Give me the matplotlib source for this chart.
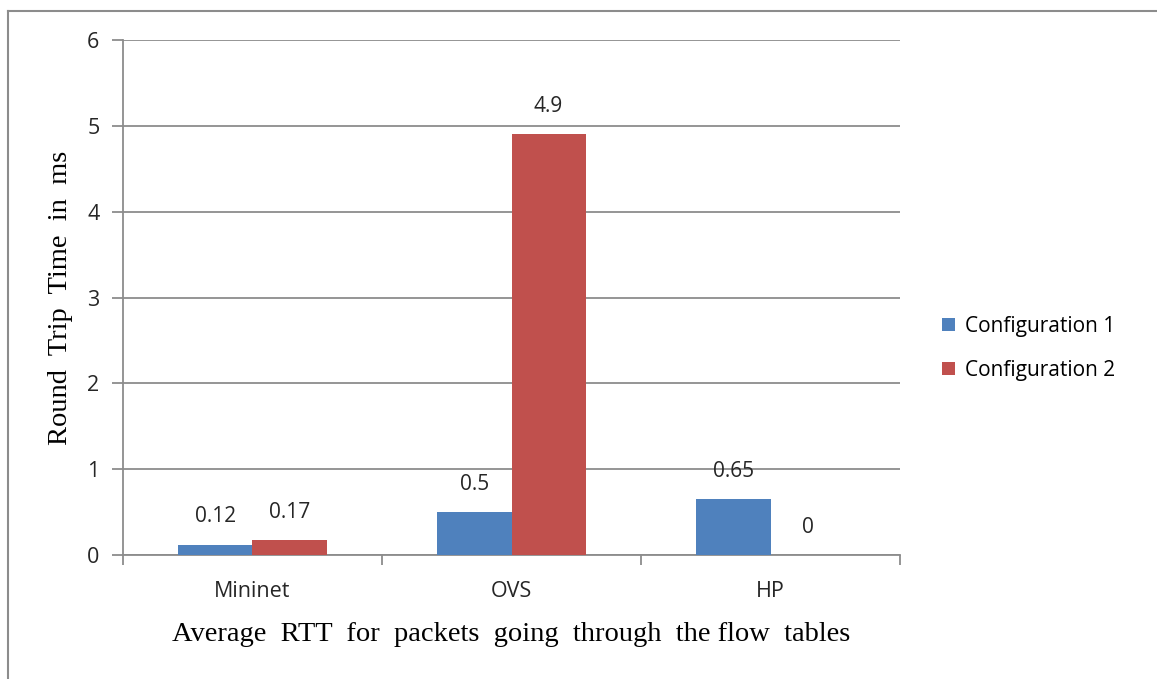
import matplotlib
matplotlib.use("Agg")
import matplotlib.pyplot as plt
import numpy as np
from matplotlib.lines import Line2D

# Average round trip time per switch platform
platforms = ["Mininet", "OVS", "HP"]
config1_rtt = [0.12, 0.5, 0.65]
config2_rtt = [0.17, 4.9, 0]
series_names = ["Configuration 1", "Configuration 2"]
y_ticks = [0, 1, 2, 3, 4, 5, 6]

BLUE = "#4F81BD"
RED = "#C0504D"
GRID = "#8C8C8C"
TEXT = "#262626"

plt.rcParams["font.family"] = ["Open Sans", "DejaVu Sans"]

fig = plt.figure(figsize=(11.57, 6.79), dpi=100)
ax = fig.add_axes([0.1063, 0.1826, 0.6716, 0.7585])

x = np.arange(len(platforms))
width = 0.286
bars1 = ax.bar(x - width / 2, config1_rtt, width, color=BLUE, label=series_names[0], zorder=3)
bars2 = ax.bar(x + width / 2, config2_rtt, width, color=RED, label=series_names[1], zorder=3)

for bars in (bars1, bars2):
    for b in bars:
        h = b.get_height()
        ax.annotate(f"{h:g}", (b.get_x() + b.get_width() / 2, h),
                    xytext=(0, 20), textcoords="offset points",
                    ha="center", va="center", fontsize=15, color=TEXT, zorder=4)

ax.set_xlim(-0.5, len(platforms) - 0.5)
ax.set_ylim(0, 6)
ax.set_yticks(y_ticks)
ax.yaxis.grid(True, color=GRID, linewidth=1.3, zorder=0)
ax.set_axisbelow(True)

# category labels sit between the boundary ticks
ax.set_xticks(np.arange(-0.5, len(platforms), 1.0))
ax.set_xticklabels([])
ax.set_xticks(x, minor=True)
ax.set_xticklabels(platforms, minor=True)
ax.tick_params(axis="x", which="minor", length=0, pad=19, labelsize=15.5, labelcolor=TEXT)
ax.tick_params(axis="x", which="major", length=7, width=1.3, color=GRID, direction="out")
ax.tick_params(axis="y", length=8, width=1.3, color=GRID, direction="out", pad=9,
               labelsize=15.5, labelcolor=TEXT)

for side in ("top", "right"):
    ax.spines[side].set_visible(False)
for side in ("left", "bottom"):
    ax.spines[side].set_color(GRID)
    ax.spines[side].set_linewidth(1.3)

serif = ["Liberation Serif", "DejaVu Serif"]
ax.set_xlabel("Average  RTT  for  packets  going  through  the flow  tables",
              family=serif, fontsize=20.5, color="black", labelpad=14)
ax.set_ylabel("Round  Trip  Time  in  ms", family=serif, fontsize=20.5, color="black", labelpad=10)

fig.legend(handles=[bars1, bars2], labels=series_names, loc="center left",
           bbox_to_anchor=(0.798, 0.487), frameon=False, fontsize=15,
           handlelength=0.6, handleheight=0.6, handletextpad=0.5, labelspacing=1.1)

# chart frame (left and top edges)
fig.add_artist(Line2D([0.0072, 0.0072], [0, 0.984], transform=fig.transFigure,
                      color="#8C8C8C", linewidth=1.5))
fig.add_artist(Line2D([0.0072, 1], [0.984, 0.984], transform=fig.transFigure,
                      color="#8C8C8C", linewidth=1.5))

fig.savefig("out.png", dpi=100)
